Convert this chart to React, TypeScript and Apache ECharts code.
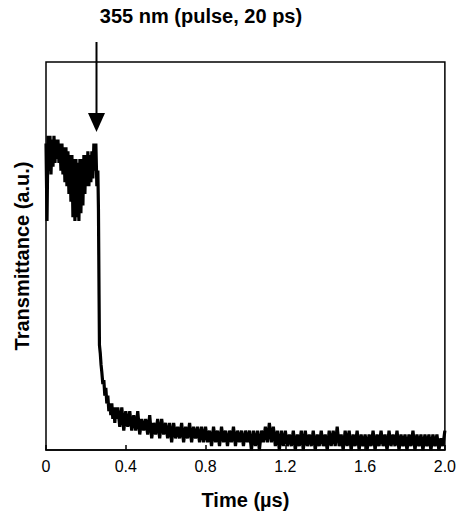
import React, { useEffect, useRef } from "react";
import * as echarts from "echarts";

// Time (µs) and transmittance (a.u.) samples
const preTime = [
  0.0, 0.005, 0.01, 0.015, 0.02, 0.025, 0.03, 0.035, 0.04, 0.045, 0.05, 0.055, 0.06, 0.065, 0.07,
  0.075, 0.08, 0.085, 0.09, 0.095, 0.1, 0.105, 0.11, 0.115, 0.12, 0.125, 0.13, 0.135, 0.14, 0.145,
  0.15, 0.155, 0.16, 0.165, 0.17, 0.175, 0.18, 0.185, 0.19, 0.195, 0.2, 0.205, 0.21, 0.215, 0.22,
  0.225, 0.23, 0.235, 0.24, 0.245, 0.25, 0.255, 0.26, 0.263, 0.266, 0.268,
];
const preValues = [
  0.79, 0.59, 0.81, 0.72, 0.81, 0.71, 0.8, 0.73, 0.81, 0.74, 0.8, 0.75, 0.8, 0.74, 0.79,
  0.72, 0.79, 0.71, 0.78, 0.69, 0.78, 0.68, 0.77, 0.66, 0.76, 0.64, 0.76, 0.6, 0.75, 0.59,
  0.75, 0.6, 0.74, 0.59, 0.75, 0.61, 0.75, 0.63, 0.76, 0.66, 0.76, 0.68, 0.77, 0.68, 0.76,
  0.69, 0.77, 0.7, 0.79, 0.72, 0.79, 0.68, 0.72, 0.62, 0.4, 0.27,
];
const decayTime = [
  0.272, 0.276, 0.28, 0.285, 0.29, 0.295, 0.3, 0.305, 0.31, 0.315, 0.32, 0.325, 0.33, 0.335,
  0.34, 0.345, 0.35, 0.355, 0.36,
];
const decayValues = [
  0.25, 0.22, 0.2, 0.17, 0.18, 0.14, 0.16, 0.12, 0.14, 0.1, 0.12, 0.09, 0.12, 0.08,
  0.11, 0.07, 0.11, 0.08, 0.11,
];
// tail sampled every 0.01 µs from 0.37 to 2.00
const tailStart = 0.37;
const tailStep = 0.01;
const tailValues = [
  0.06, 0.11, 0.05, 0.1, 0.06, 0.1, 0.05, 0.09, 0.05, 0.1, 0.04, 0.08, 0.05, 0.08,
  0.04, 0.09, 0.03, 0.07, 0.04, 0.08, 0.03, 0.08, 0.04, 0.07, 0.03, 0.07, 0.02, 0.07,
  0.03, 0.06, 0.03, 0.07, 0.02, 0.06, 0.03, 0.07, 0.02, 0.06, 0.03, 0.06, 0.02, 0.06,
  0.02, 0.06, 0.02, 0.05, 0.01, 0.06, 0.02, 0.05, 0.01, 0.06, 0.02, 0.05, 0.01, 0.05,
  0.02, 0.06, 0.01, 0.05, 0.02, 0.05, 0.01, 0.05, 0.02, 0.05, 0.0, 0.05, 0.01, 0.05,
  0.0, 0.05, 0.02, 0.06, 0.02, 0.07, 0.02, 0.06, 0.01, 0.05, 0.0, 0.05, 0.01, 0.05,
  0.01, 0.04, 0.01, 0.05, 0.0, 0.04, 0.01, 0.05, 0.0, 0.05, 0.01, 0.04, 0.01, 0.05,
  0.0, 0.04, 0.01, 0.05, 0.01, 0.04, 0.0, 0.05, 0.01, 0.05, 0.01, 0.06, 0.01, 0.04,
  0.0, 0.05, 0.01, 0.05, 0.0, 0.04, 0.01, 0.05, 0.0, 0.04, 0.01, 0.04, 0.0, 0.04,
  0.01, 0.05, 0.0, 0.04, 0.01, 0.05, 0.01, 0.04, 0.0, 0.05, 0.01, 0.04, 0.01, 0.05,
  0.0, 0.04, 0.01, 0.04, 0.0, 0.04, 0.01, 0.05, 0.0, 0.04, 0.01, 0.04, 0.0, 0.04,
  0.01, 0.04, 0.0, 0.04, 0.01, 0.04, 0.0, 0.03, 0.01, 0.05,
];

const xTicks = [0, 0.4, 0.8, 1.2, 1.6, 2.0];
const pulseTime = 0.25;
const pulseLabel = "355 nm (pulse, 20 ps)";
const xName = "Time (µs)";
const yName = "Transmittance (a.u.)";

const FONT = "'Liberation Sans', Arial, Helvetica, sans-serif";

export default function App() {
  const ref = useRef<HTMLDivElement>(null);

  useEffect(() => {
    document.body.style.margin = "0";
    if (!ref.current) return;
    const chart = echarts.init(ref.current, undefined, { renderer: "svg" });

    const data: [number, number][] = [];
    preTime.forEach((t, i) => data.push([t, preValues[i]]));
    decayTime.forEach((t, i) => data.push([t, decayValues[i]]));
    tailValues.forEach((v, i) =>
      data.push([Math.round((tailStart + i * tailStep) * 1000) / 1000, v])
    );

    chart.setOption({
      animation: false,
      grid: {
        left: 46,
        top: 62,
        right: 7,
        bottom: 61,
        show: true,
        borderColor: "#000",
        borderWidth: 1.5,
        backgroundColor: "transparent",
      },
      xAxis: {
        type: "value",
        min: 0,
        max: 2,
        interval: 0.4,
        name: xName,
        nameLocation: "middle",
        nameGap: 40,
        nameTextStyle: { fontFamily: FONT, fontSize: 20, fontWeight: "bold", color: "#000" },
        axisLine: { show: true, lineStyle: { color: "#000", width: 1.5 } },
        axisTick: { show: true, inside: true, length: 5, lineStyle: { color: "#000", width: 1.5 } },
        axisLabel: {
          fontFamily: FONT,
          fontSize: 16,
          color: "#000",
          margin: 8,
          showMinLabel: true,
          showMaxLabel: true,
          formatter: (v: number) => {
            const m = xTicks.find((t) => Math.abs(t - v) < 1e-6);
            if (m === undefined) return "";
            return m === 0 ? "0" : m.toFixed(1);
          },
        },
        splitLine: { show: false },
      },
      yAxis: {
        type: "value",
        min: 0,
        max: 1,
        name: yName,
        nameLocation: "middle",
        nameGap: 14,
        nameTextStyle: { fontFamily: FONT, fontSize: 20, fontWeight: "bold", color: "#000" },
        axisLine: { show: false },
        axisTick: { show: false },
        axisLabel: { show: false },
        splitLine: { show: false },
      },
      series: [
        {
          type: "line",
          data,
          showSymbol: false,
          symbol: "none",
          lineStyle: { color: "#000", width: 3.2, join: "miter" },
          clip: true,
        },
      ],
    });

    const px = chart.convertToPixel({ gridIndex: 0 }, [pulseTime, 1]) as number[];
    const ax = Math.round(px[0]) + 0.5;
    chart.setOption({
      graphic: [
        {
          type: "text",
          x: 201,
          y: 16,
          style: {
            text: pulseLabel,
            fontFamily: FONT,
            fontSize: 20,
            fontWeight: "bold",
            fill: "#000",
            align: "center",
            verticalAlign: "middle",
          },
        },
        {
          type: "line",
          shape: { x1: ax, y1: 42, x2: ax, y2: 116 },
          style: { stroke: "#000", lineWidth: 2 },
        },
        {
          type: "polygon",
          shape: {
            points: [
              [ax - 8.5, 113],
              [ax + 8.5, 113],
              [ax, 132],
            ],
          },
          style: { fill: "#000" },
        },
      ],
    });

    return () => chart.dispose();
  }, []);

  return <div ref={ref} style={{ width: 459, height: 515 }} />;
}
